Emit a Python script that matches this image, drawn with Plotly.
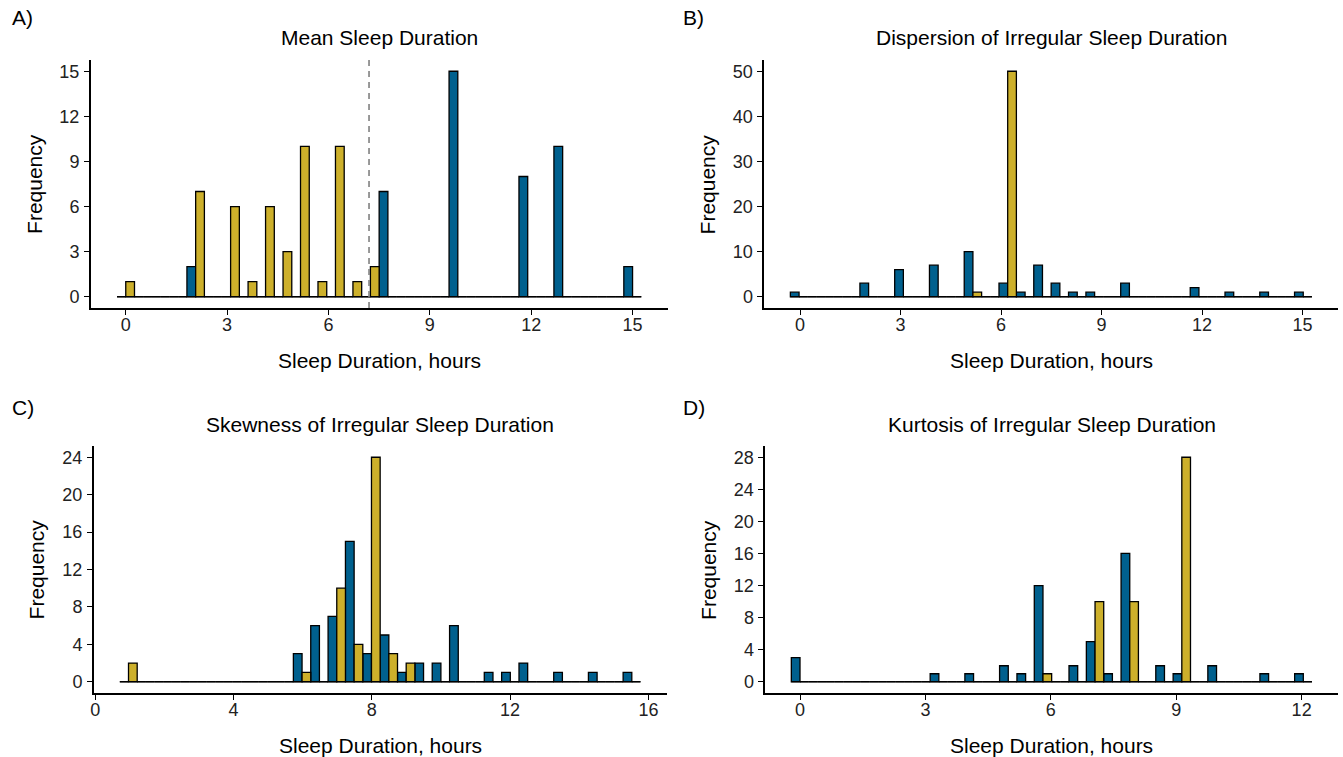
import numpy as np
import plotly.graph_objects as go

W, H = 1343, 757
N_BINS = 30
BLUE = "#00608E"
GOLD = "#CDB02B"
FONT = "Liberation Sans, Arial, sans-serif"

# ---- data: counts per bin (30 bins spanning each panel's data range) ----
A_range = (0.0, 15.0)
A_blue = [0, 0, 0, 0, 2, 0, 0, 0, 0, 0, 0, 0, 0, 0, 0, 7, 0, 0, 0, 15, 0, 0, 0, 8, 0, 10, 0, 0, 0, 2]
A_gold = [1, 0, 0, 0, 7, 0, 6, 1, 6, 3, 10, 1, 10, 1, 2, 0, 0, 0, 0, 0, 0, 0, 0, 0, 0, 0, 0, 0, 0, 0]
A_vline = 7.2

B_range = (-0.03, 15.02)
B_blue = [1, 0, 0, 0, 3, 0, 6, 0, 7, 0, 10, 0, 3, 1, 7, 3, 1, 1, 0, 3, 0, 0, 0, 2, 0, 1, 0, 1, 0, 1]
B_gold = [0, 0, 0, 0, 0, 0, 0, 0, 0, 0, 1, 0, 50, 0, 0, 0, 0, 0, 0, 0, 0, 0, 0, 0, 0, 0, 0, 0, 0, 0]

C_range = (0.96, 15.52)
C_blue = [0, 0, 0, 0, 0, 0, 0, 0, 0, 0, 3, 6, 7, 15, 3, 5, 1, 2, 2, 6, 0, 1, 1, 2, 0, 1, 0, 1, 0, 1]
C_gold = [2, 0, 0, 0, 0, 0, 0, 0, 0, 0, 1, 0, 10, 4, 24, 3, 2, 0, 0, 0, 0, 0, 0, 0, 0, 0, 0, 0, 0, 0]

D_range = (0.0, 12.04)
D_blue = [3, 0, 0, 0, 0, 0, 0, 0, 1, 0, 1, 0, 2, 1, 12, 0, 2, 5, 1, 16, 0, 2, 1, 0, 2, 0, 0, 1, 0, 1]
D_gold = [0, 0, 0, 0, 0, 0, 0, 0, 0, 0, 0, 0, 0, 0, 1, 0, 0, 10, 0, 10, 0, 0, 28, 0, 0, 0, 0, 0, 0, 0]

titles = ["Mean Sleep Duration", "Dispersion of Irregular Sleep Duration",
          "Skewness of Irregular Sleep Duration", "Kurtosis of Irregular Sleep Duration"]
tags = ["A)", "B)", "C)", "D)"]
x_ticks = [[0, 3, 6, 9, 12, 15], [0, 3, 6, 9, 12, 15], [0, 4, 8, 12, 16], [0, 3, 6, 9, 12]]
y_ticks = [[0, 3, 6, 9, 12, 15], [0, 10, 20, 30, 40, 50], [0, 4, 8, 12, 16, 20, 24], [0, 4, 8, 12, 16, 20, 24, 28]]

# ---- layout geometry (pixels) ----
panels_px = [  # x0, x1, y0(top), y1(bottom)
    (88, 666, 60, 308),
    (763, 1338, 60, 308),
    (91, 665, 446, 693),
    (764, 1338, 446, 693),
]

def px_x(x):
    return x / W

def px_y(y):
    return 1 - y / H

fig = go.Figure()
data = [(A_range, A_blue, A_gold), (B_range, B_blue, B_gold),
        (C_range, C_blue, C_gold), (D_range, D_blue, D_gold)]

layout = dict()
annotations = []
shapes = []
for i, ((lo, hi), blue, gold) in enumerate(data):
    k = "" if i == 0 else str(i + 1)
    xa, ya = "x" + k, "y" + k
    bw = (hi - lo) / (N_BINS - 1)
    centers = lo + bw * np.arange(N_BINS)
    left, right = lo - bw / 2, hi + bw / 2
    span = right - left
    ymax = max(max(blue), max(gold))
    for vals, col, off in ((blue, BLUE, -bw / 2), (gold, GOLD, 0.0)):
        fig.add_trace(go.Bar(x=centers, y=vals, width=bw / 2, offset=off,
                             marker=dict(color=col, line=dict(color="black", width=1.3)),
                             xaxis=xa, yaxis=ya, showlegend=False))
    fig.add_trace(go.Scatter(x=[left, right], y=[0, 0], mode="lines",
                             line=dict(color="black", width=1.2),
                             xaxis=xa, yaxis=ya, showlegend=False, hoverinfo="skip"))
    x0, x1, y0, y1 = panels_px[i]
    axis_common = dict(showline=True, linecolor="black", linewidth=1.6, ticks="outside",
                       ticklen=5, tickwidth=1.3, tickcolor="black", showgrid=False,
                       zeroline=False, tickfont=dict(family=FONT, size=18, color="#222222"))
    layout["xaxis" + k] = dict(domain=[px_x(x0), px_x(x1)], anchor=ya,
                               range=[left - 0.05 * span, right + 0.05 * span],
                               tickvals=x_ticks[i], ticklabelstandoff=-5, **axis_common)
    layout["yaxis" + k] = dict(domain=[px_y(y1), px_y(y0)], anchor=xa,
                               range=[-0.05 * ymax, 1.05 * ymax],
                               tickvals=y_ticks[i], ticklabelstandoff=1, **axis_common)
    cx = (x0 + x1) / 2
    cy = (y0 + y1) / 2
    annotations.append(dict(text=titles[i], x=px_x(cx), y=px_y(y0 - 22), xref="paper", yref="paper",
                            showarrow=False, xanchor="center", yanchor="middle",
                            font=dict(family=FONT, size=21, color="black")))
    annotations.append(dict(text="Sleep Duration, hours", x=px_x(cx), y=px_y(y1 + 52),
                            xref="paper", yref="paper", showarrow=False,
                            xanchor="center", yanchor="middle",
                            font=dict(family=FONT, size=21, color="black")))
    annotations.append(dict(text="Frequency", x=px_x(x0 - 57), y=px_y(cy), xref="paper", yref="paper",
                            showarrow=False, textangle=-90, xanchor="center", yanchor="middle",
                            font=dict(family=FONT, size=21, color="black")))
    annotations.append(dict(text=tags[i], x=px_x(7 if i % 2 == 0 else 680), y=px_y(18 if i < 2 else 407),
                            xref="paper", yref="paper", showarrow=False,
                            xanchor="left", yanchor="middle",
                            font=dict(family=FONT, size=21, color="black")))

shapes.append(dict(type="line", xref="x", yref="y domain", x0=A_vline, x1=A_vline, y0=0, y1=1,
                   line=dict(color="#808080", width=1.6, dash="6px,5px")))

fig.update_layout(width=W, height=H, margin=dict(l=0, r=0, t=0, b=0),
                  plot_bgcolor="white", paper_bgcolor="white", barmode="overlay",
                  annotations=annotations, shapes=shapes, **layout)
fig.write_html("out.html", config={"displayModeBar": False},
               post_script="document.body.style.margin='0';document.body.style.overflow='hidden';")
